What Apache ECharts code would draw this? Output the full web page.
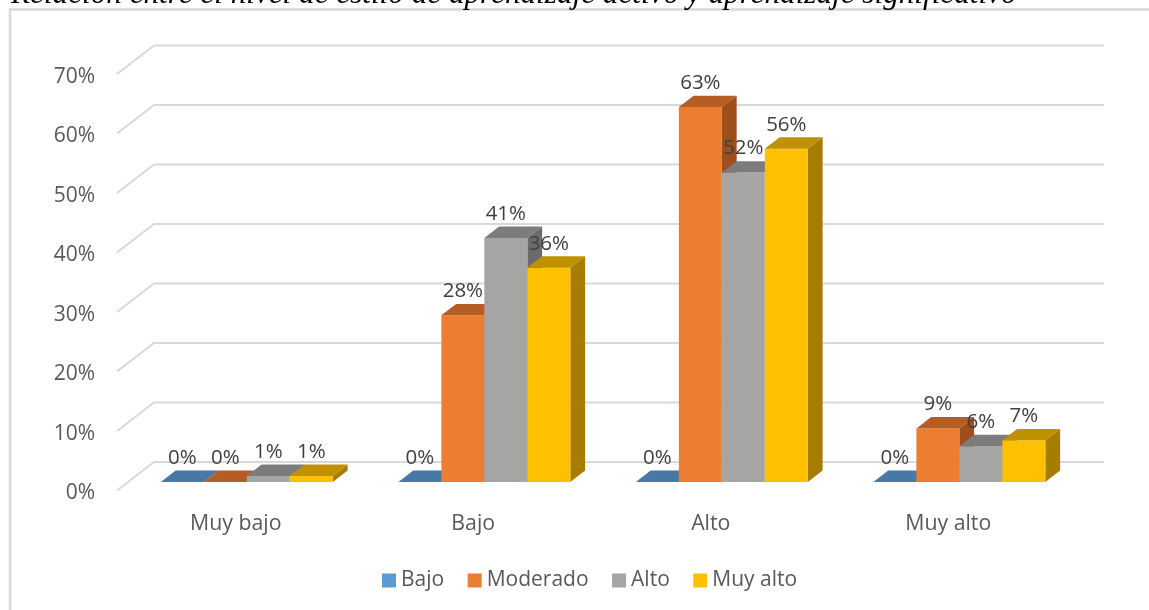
<!DOCTYPE html>
<html><head><meta charset="utf-8">
<style>html,body{margin:0;padding:0;background:#fff}#c{width:1149px;height:610px}</style>
<script src="https://cdn.jsdelivr.net/npm/echarts@6/dist/echarts.min.js"></script>
</head><body><div id="c"></div>
<script>
const categories = ['Muy bajo','Bajo','Alto','Muy alto'];
const bajo = [0,0,0,0];
const moderado = [0,0.28,0.63,0.09];
const alto = [0.01,0.41,0.52,0.06];
const muyAlto = [0.01,0.36,0.56,0.07];
const ticks = [0,0.1,0.2,0.3,0.4,0.5,0.6,0.7];
const titleText = 'Relación entre el nivel de estilo de aprendizaje activo y aprendizaje significativo';

const FONT = '"Open Sans", sans-serif';
const DX = 37, DY = -28.5;
const BAR_FRAC = 0.181;
const F0 = 0.30, F1 = 0.70;

function wallItem(params, api){
  const v = api.value(1);
  const band = api.size([1,0])[0];
  const p = api.coord([0,v]);
  const x0 = p[0]-band/2;
  const x1 = x0 + band*categories.length;
  const y = p[1];
  return {type:'polyline',silent:true,
    shape:{points:[[x0,y],[x0+DX,y+DY],[x1+DX,y+DY]]},
    style:{fill:'none',stroke:'#d9d9d9',lineWidth:2}};
}
function barRenderer(idx, front, top, side){
  return function(params, api){
    const c = api.value(0), v = api.value(1);
    const band = api.size([1,0])[0];
    const w = band*BAR_FRAC;
    const pt = api.coord([c,v]), pb = api.coord([c,0]);
    const ox = F0*DX, oy = F0*DY;
    const dx = (F1-F0)*DX, dy = (F1-F0)*DY;
    const L = pt[0] + ox + (idx-2)*w;
    const R = L + w;
    const yt = pt[1]+oy, yb = pb[1]+oy;
    const children = [];
    if (yb-yt > 0.01) {
      children.push({type:'polygon',shape:{points:[[R,yt],[R+dx,yt+dy],[R+dx,yb+dy],[R,yb]]},style:{fill:side}});
      children.push({type:'rect',shape:{x:L,y:yt,width:w,height:yb-yt},style:{fill:front}});
    }
    children.push({type:'polygon',shape:{points:[[L,yt],[R,yt],[R+dx,yt+dy],[L+dx,yt+dy]]},style:{fill:top}});
    children.push({type:'text',z2:100,style:{x:(L+R)/2,y:yt-24,text:Math.round(v*100)+'%',
      align:'center',verticalAlign:'middle',fill:'#404040',font:'20.5px '+FONT}});
    return {type:'group',children};
  };
}
function mk(name, arr, idx, front, top, side){
  return {name,type:'custom',clip:false,itemStyle:{color:front},
    encode:{x:0,y:1},
    renderItem:barRenderer(idx,front,top,side),
    data:arr.map((v,i)=>[i,v])};
}
const chart = echarts.init(document.getElementById('c'),null,{renderer:'canvas'});
chart.setOption({
  animation:false,
  backgroundColor:'#fff',
  title:{text:titleText,left:6,top:-26,textStyle:{fontFamily:'"Liberation Serif"',fontStyle:'italic',fontWeight:'normal',fontSize:31.2,color:'#000'}},
  graphic:[{type:'polyline',silent:true,z:1,shape:{points:[[10,612],[10,9.5],[1150,9.5]]},style:{fill:'none',stroke:'#d9d9d9',lineWidth:2.5}}],
  grid:{left:117,top:74,width:950,height:416.5},
  xAxis:{type:'category',data:categories,axisLine:{show:false},axisTick:{show:false},
    axisLabel:{margin:23,color:'#595959',fontFamily:FONT,fontSize:21.3}},
  yAxis:{type:'value',min:0,max:0.7,interval:0.1,splitLine:{show:false},axisLine:{show:false},axisTick:{show:false},
    axisLabel:{margin:22,color:'#595959',fontFamily:FONT,fontSize:21,
      formatter:v=>'{t|'+Math.round(v*100)+'%}',
      rich:{t:{color:'#595959',fontFamily:FONT,fontSize:21,padding:[6,0,0,0]}}}},
  legend:{data:['Bajo','Moderado','Alto','Muy alto'],left:382,top:570,padding:0,icon:'rect',itemWidth:14,itemHeight:14,itemGap:23.5,
    textStyle:{color:'#595959',fontFamily:FONT,fontSize:21}},
  series:[
    {type:'custom',name:'wall',clip:false,silent:true,encode:{x:0,y:1},renderItem:wallItem,data:ticks.map(t=>[0,t])},
    mk('Bajo',bajo,0,'#5B9BD5','#4778A6','#3A6B99'),
    mk('Moderado',moderado,1,'#ED7D31','#B55D22','#9E4F1C'),
    mk('Alto',alto,2,'#A5A5A5','#7C7C7C','#6B6B6B'),
    mk('Muy alto',muyAlto,3,'#FFC000','#BF9000','#A67D00')
  ]
});
</script></body></html>
